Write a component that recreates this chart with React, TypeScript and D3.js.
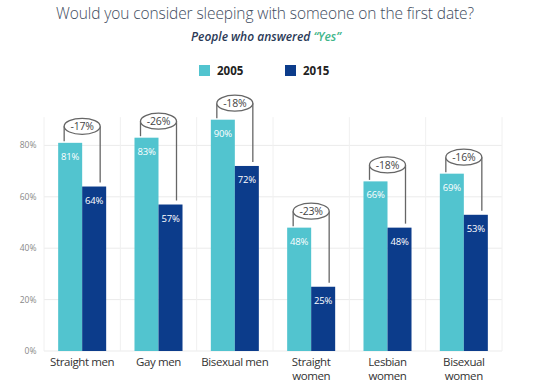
import React from "react";
import * as d3 from "d3";

const categories = [
  ["Straight men"],
  ["Gay men"],
  ["Bisexual men"],
  ["Straight", "women"],
  ["Lesbian", "women"],
  ["Bisexual", "women"],
];
const categoryKeys = ["sm", "gm", "bm", "sw", "lw", "bw"];
const series = ["2005", "2015"];
const values2005 = [81, 83, 90, 48, 66, 69];
const values2015 = [64, 57, 72, 25, 48, 53];
const changes = ["-17%", "-26%", "-18%", "-23%", "-18%", "-16%"];
const yTicks = [0, 20, 40, 60, 80];

const W = 550;
const H = 389;
const LIGHT = "#52c4cf";
const DARK = "#0c3c8b";
const FONT = "'Open Sans', 'Noto Sans', sans-serif";

export default function App() {
  const y = d3.scaleLinear().domain([0, 100]).range([351, 94]);
  const x = d3
    .scaleBand<string>()
    .domain(categoryKeys)
    .range([44, 502])
    .paddingInner(0.371)
    .paddingOuter(0.1855);
  const step = x.step();
  const xs = d3.scaleBand<string>().domain(series).range([0, x.bandwidth()]);
  const gridTop = y(91);

  return (
    <svg width={W} height={H} style={{ position: "absolute", left: 0, top: 0, background: "#fff" }}>
      <rect width={W} height={H} fill="#fff" />
      {/* title */}
      <text x={265} y={19} textAnchor="middle" fontFamily={FONT} fontSize={15.5} fontWeight={300} fill="#3e4c5e" letterSpacing={-0.1}>
        Would you consider sleeping with someone on the first date?
      </text>
      <text x={266} y={41} textAnchor="middle" fontFamily={FONT} fontSize={12} fontStyle="italic" fontWeight={600} fill="#2b3a57">
        People who answered <tspan fill="#3fb68a">{"\u201CYes\u201D"}</tspan>
      </text>
      {/* legend */}
      {series.map((s, i) => (
        <g key={s} transform={`translate(${199 + i * 86},65)`}>
          <rect width={11} height={11} fill={i === 0 ? LIGHT : DARK} />
          <text x={18} y={10} fontFamily={FONT} fontSize={11.5} fontWeight={700} fill="#222">
            {s}
          </text>
        </g>
      ))}
      {/* grid */}
      {yTicks.map((t) => (
        <g key={t}>
          <line x1={44} x2={502} y1={y(t)} y2={y(t)} stroke="#ebebeb" strokeWidth={1} />
          <text x={36.5} y={y(t) + 3} textAnchor="end" fontFamily={FONT} fontSize={8.5} fill="#888">
            {t}%
          </text>
        </g>
      ))}
      {d3.range(categoryKeys.length + 1).map((i) => (
        <line key={i} x1={44 + i * step} x2={44 + i * step} y1={gridTop} y2={y(0)} stroke="#f0f0f0" strokeWidth={1} />
      ))}
      {/* bars */}
      {categoryKeys.map((k, i) => {
        const gx = x(k)!;
        const v1 = values2005[i];
        const v2 = values2015[i];
        const cx = gx + x.bandwidth() / 2;
        const ey = y(v1) - 16.5;
        const rx = 18;
        const ry = 8;
        return (
          <g key={k}>
            <rect x={gx + xs("2005")!} y={y(v1)} width={xs.bandwidth()} height={y(0) - y(v1)} fill={LIGHT} />
            <rect x={gx + xs("2015")!} y={y(v2)} width={xs.bandwidth()} height={y(0) - y(v2)} fill={DARK} />
            <text x={gx + xs("2005")! + xs.bandwidth() / 2} y={y(v1) + 17} textAnchor="middle" fontFamily={FONT} fontSize={9.5} letterSpacing={-0.2} fill="#fff">
              {v1}%
            </text>
            <text x={gx + xs("2015")! + xs.bandwidth() / 2} y={y(v2) + 17} textAnchor="middle" fontFamily={FONT} fontSize={9.5} letterSpacing={-0.2} fill="#fff">
              {v2}%
            </text>
            <line x1={cx - rx} x2={cx - rx} y1={ey} y2={y(v1) - 1.5} stroke="#666" strokeWidth={1.3} />
            <line x1={cx + rx} x2={cx + rx} y1={ey} y2={y(v2) - 4} stroke="#666" strokeWidth={1.3} />
            <ellipse cx={cx} cy={ey} rx={rx} ry={ry} fill="#fff" stroke="#666" strokeWidth={1.3} />
            <text x={cx} y={ey + 4} textAnchor="middle" fontFamily={FONT} fontSize={10.5} letterSpacing={-0.2} fill="#444">
              {changes[i]}
            </text>
            {categories[i].map((line, j) => (
              <text key={j} x={cx} y={366 + j * 14} textAnchor="middle" fontFamily={FONT} fontSize={11.5} letterSpacing={-0.4} fill="#333">
                {line}
              </text>
            ))}
          </g>
        );
      })}
    </svg>
  );
}
